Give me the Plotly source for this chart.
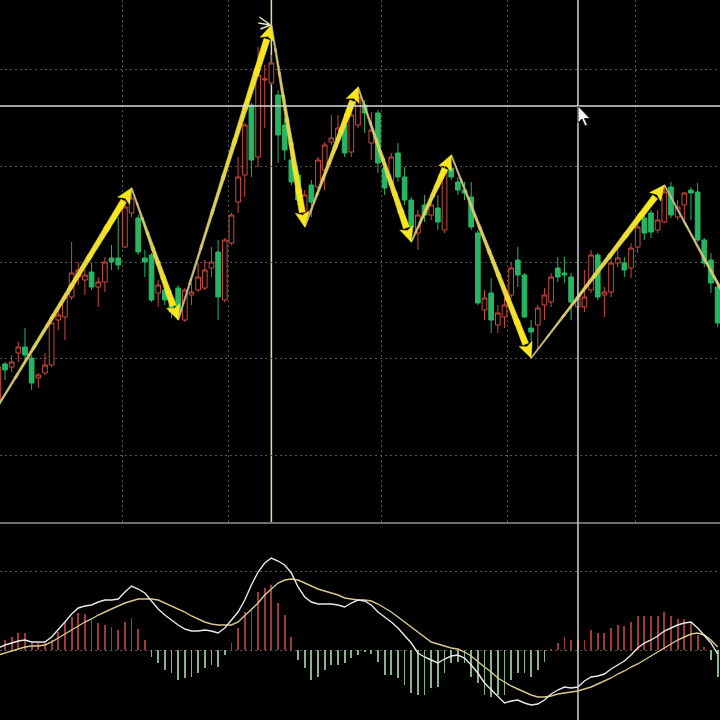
import numpy as np
import plotly.graph_objects as go

# ---------------- data ----------------
candle_idx = list(range(109))
opens = [10.0, 13.6, 13.3, 14.7, 15.3, 14.2, 12.2, 12.7, 13.5, 18.0,
         18.3, 20.3, 22.3, 22.0, 22.8, 21.3, 21.8, 24.2, 24.2, 25.3,
         28.7, 28.2, 24.2, 24.5, 20.7, 21.0, 20.2, 21.2, 18.0, 20.5,
         21.0, 21.2, 23.2, 24.8, 20.0, 25.7, 29.8, 32.5, 39.5, 34.3,
         42.0, 41.7, 40.5, 37.5, 34.0, 32.5, 28.7, 31.5, 31.3, 33.0,
         35.8, 36.0, 37.5, 34.8, 37.5, 39.5, 35.7, 38.7, 33.2, 31.5,
         34.7, 32.3, 30.0, 26.7, 29.5, 28.5, 29.2, 27.0, 33.2, 31.8,
         31.0, 30.3, 26.7, 19.0, 20.7, 17.5, 18.3, 20.5, 24.0, 22.5,
         17.2, 17.5, 19.5, 19.8, 23.2, 22.7, 22.3, 19.3, 19.3, 21.0,
         24.5, 20.5, 20.8, 23.7, 23.7, 23.2, 25.3, 28.2, 28.7, 27.0,
         27.8, 31.3, 28.3, 29.5, 31.0, 30.8, 26.0, 24.0, 21.3]
highs = [14.0, 13.8, 14.5, 15.8, 17.2, 14.5, 12.7, 14.7, 18.0, 19.0,
         20.7, 25.8, 23.8, 23.0, 23.7, 22.3, 24.3, 25.5, 28.3, 30.0,
         31.0, 28.5, 25.0, 24.7, 22.0, 21.5, 20.5, 21.5, 21.2, 21.7,
         23.7, 24.0, 25.3, 26.0, 26.2, 28.7, 34.3, 37.7, 39.7, 45.3,
         43.5, 44.5, 41.0, 38.2, 35.0, 33.0, 31.0, 32.0, 34.3, 35.8,
         38.5, 38.5, 38.2, 39.0, 41.0, 40.0, 38.8, 39.0, 33.5, 34.7,
         35.7, 33.3, 30.3, 29.0, 30.5, 30.0, 30.5, 33.5, 33.5, 32.3,
         31.8, 31.8, 27.0, 21.0, 22.2, 19.5, 20.2, 23.7, 25.3, 22.7,
         18.0, 19.5, 21.2, 22.7, 24.3, 24.3, 22.7, 20.7, 23.0, 25.0,
         24.7, 21.3, 24.2, 25.0, 24.3, 25.7, 27.7, 28.7, 29.0, 29.0,
         31.5, 31.8, 30.0, 30.8, 31.3, 31.7, 26.2, 24.7, 21.7]
lows = [9.8, 12.0, 12.8, 13.8, 13.8, 11.0, 11.2, 12.5, 13.3, 17.0,
        16.0, 20.0, 21.5, 20.5, 21.0, 19.3, 20.8, 23.0, 23.0, 25.2,
        28.3, 24.5, 22.3, 19.8, 19.3, 19.5, 18.2, 18.2, 17.8, 19.5,
        20.8, 21.0, 22.3, 18.0, 19.8, 25.5, 28.7, 30.3, 32.3, 33.3,
        37.2, 41.5, 33.7, 34.0, 31.5, 29.5, 27.8, 28.3, 30.8, 31.0,
        35.5, 35.7, 34.3, 34.3, 37.2, 36.7, 34.0, 32.7, 30.5, 30.7,
        31.8, 29.5, 26.8, 25.0, 27.8, 28.0, 27.0, 26.7, 32.0, 30.5,
        30.0, 27.0, 19.5, 18.0, 16.7, 16.7, 17.2, 20.2, 21.3, 18.2,
        14.7, 15.0, 18.0, 19.3, 21.8, 21.7, 18.0, 18.0, 18.8, 20.7,
        20.0, 18.3, 20.3, 23.3, 22.3, 22.2, 24.7, 26.0, 26.2, 26.7,
        27.7, 28.2, 28.0, 27.7, 28.0, 25.8, 23.3, 20.7, 17.3]
closes = [13.3, 13.0, 13.8, 15.3, 14.5, 11.7, 12.5, 13.5, 17.7, 18.5,
          20.3, 22.7, 23.0, 22.5, 21.3, 21.8, 23.8, 23.8, 23.5, 29.3,
          30.2, 24.8, 23.8, 20.0, 21.5, 20.0, 18.8, 18.5, 21.0, 20.8,
          22.3, 23.0, 23.8, 20.3, 26.0, 28.5, 32.3, 37.5, 34.0, 42.5,
          42.1, 43.7, 36.5, 35.0, 31.8, 30.0, 30.5, 29.8, 34.0, 35.5,
          36.2, 37.2, 34.7, 38.5, 40.3, 38.7, 37.0, 33.7, 31.2, 34.3,
          32.3, 30.0, 27.3, 28.5, 28.5, 29.5, 27.8, 33.0, 32.3, 31.0,
          30.7, 27.3, 19.7, 20.2, 18.0, 18.7, 19.5, 23.2, 22.5, 18.3,
          16.8, 19.2, 20.5, 22.3, 22.3, 22.5, 19.8, 20.2, 20.3, 24.5,
          20.3, 20.8, 23.7, 24.2, 23.0, 25.2, 27.3, 26.7, 26.8, 28.0,
          30.8, 28.5, 29.3, 30.7, 30.7, 26.0, 23.7, 21.7, 17.7]

macd_hist = [0.08, 0.10, 0.13, 0.17, 0.17, 0.08, 0.07, 0.07, 0.10, 0.18,
             0.28, 0.33, 0.37, 0.36, 0.30, 0.27, 0.25, 0.23, 0.20, 0.28,
             0.32, 0.21, 0.10, -0.07, -0.13, -0.20, -0.23, -0.30, -0.28, -0.27,
             -0.23, -0.18, -0.15, -0.17, -0.05, 0.07, 0.22, 0.38, 0.42, 0.58,
             0.62, 0.65, 0.47, 0.35, 0.13, -0.10, -0.18, -0.30, -0.27, -0.20,
             -0.15, -0.15, -0.13, -0.08, -0.05, -0.02, -0.04, -0.12, -0.25, -0.25,
             -0.28, -0.35, -0.43, -0.45, -0.45, -0.38, -0.37, -0.23, -0.13, -0.12,
             -0.13, -0.27, -0.33, -0.45, -0.47, -0.45, -0.45, -0.30, -0.23, -0.23,
             -0.27, -0.20, -0.12, 0.01, 0.07, 0.13, 0.10, 0.10, 0.10, 0.20,
             0.17, 0.17, 0.22, 0.25, 0.24, 0.28, 0.34, 0.34, 0.34, 0.34,
             0.38, 0.34, 0.31, 0.31, 0.28, 0.15, 0.03, -0.10, -0.27]
dif = [0.02, 0.05, 0.07, 0.09, 0.10, 0.08, 0.08, 0.08, 0.13, 0.20,
       0.28, 0.36, 0.42, 0.44, 0.45, 0.48, 0.50, 0.50, 0.51, 0.58,
       0.64, 0.61, 0.57, 0.49, 0.41, 0.35, 0.30, 0.25, 0.21, 0.19,
       0.19, 0.20, 0.19, 0.17, 0.22, 0.30, 0.38, 0.50, 0.65, 0.78,
       0.87, 0.92, 0.89, 0.85, 0.77, 0.63, 0.53, 0.48, 0.46, 0.46,
       0.46, 0.45, 0.43, 0.47, 0.50, 0.49, 0.45, 0.38, 0.33, 0.28,
       0.22, 0.14, 0.07, -0.03, -0.07, -0.10, -0.13, -0.09, -0.06, -0.05,
       -0.08, -0.15, -0.23, -0.33, -0.40, -0.47, -0.53, -0.51, -0.50, -0.53,
       -0.55, -0.54, -0.50, -0.44, -0.40, -0.37, -0.38, -0.37, -0.31, -0.27,
       -0.26, -0.24, -0.19, -0.15, -0.11, -0.05, 0.02, 0.07, 0.10, 0.14,
       0.19, 0.22, 0.25, 0.27, 0.28, 0.22, 0.15, 0.07, -0.04]
dea = [-0.05, -0.03, -0.01, 0.01, 0.03, 0.04, 0.04, 0.05, 0.08, 0.12,
       0.16, 0.20, 0.24, 0.28, 0.31, 0.35, 0.38, 0.41, 0.44, 0.47,
       0.49, 0.51, 0.51, 0.51, 0.50, 0.47, 0.44, 0.41, 0.38, 0.34,
       0.31, 0.28, 0.26, 0.25, 0.25, 0.25, 0.28, 0.34, 0.40, 0.47,
       0.55, 0.61, 0.67, 0.70, 0.71, 0.70, 0.67, 0.64, 0.61, 0.59,
       0.57, 0.55, 0.52, 0.51, 0.50, 0.50, 0.49, 0.46, 0.42, 0.38,
       0.33, 0.28, 0.23, 0.18, 0.13, 0.08, 0.06, 0.04, 0.02, 0.01,
       -0.02, -0.06, -0.12, -0.17, -0.22, -0.28, -0.32, -0.36, -0.39, -0.42,
       -0.45, -0.47, -0.47, -0.46, -0.44, -0.43, -0.42, -0.41, -0.39, -0.37,
       -0.34, -0.31, -0.28, -0.24, -0.21, -0.17, -0.14, -0.10, -0.06, -0.02,
       0.02, 0.06, 0.10, 0.13, 0.16, 0.17, 0.15, 0.10, 0.03]

# hand-drawn zigzag (pivot candle, pivot price)
pivot_idx = [-3, 20, 27, 41, 46, 54, 62, 68, 80, 100, 125]
pivot_price = [6.2, 31.2, 18.0, 47.5, 27.3, 41.3, 25.8, 34.5, 14.2, 31.5, 0.8]

# grid / crosshair positions
vgrid_idx = [18.7, 34.6, 57.6, 76.5, 95.6]
hgrid_price = [4.5, 14.2, 23.8, 33.4, 43.1]
macd_grid = [0.0, 0.79]
cross_idx = 41
cursor_idx = 87.03
cursor_price = 39.4

# ---------------- geometry ----------------
W = H = 720
MAIN_H = 523
MACD_FRAC = 1 - MAIN_H / H
X_RANGE = [0.2492, 108.36]
Y_RANGE = [-2.3, 50.0]
MACD_RANGE = [-0.70, 1.27]

fig = go.Figure()

fig.add_trace(go.Candlestick(
    x=candle_idx, open=opens, high=highs, low=lows, close=closes,
    increasing=dict(line=dict(color='#cc4a3e', width=1), fillcolor='#000000'),
    decreasing=dict(line=dict(color='#27b564', width=1), fillcolor='#27b564'),
    whiskerwidth=0, xaxis='x', yaxis='y', hoverinfo='skip'))

# tapered arrows, built in pixel space then mapped back to data units
XS = W / (X_RANGE[1] - X_RANGE[0])
YS = MAIN_H / (Y_RANGE[1] - Y_RANGE[0])


def to_px(k, p):
    return np.array([(k - X_RANGE[0]) * XS, (Y_RANGE[1] - p) * YS])


def to_data(pt):
    return pt[0] / XS + X_RANGE[0], Y_RANGE[1] - pt[1] / YS


N = 8
c0 = np.array([200, 190, 140])
c1 = np.array([248, 230, 30])
layers = [([], []) for _ in range(N + 1)]
h0, h1 = 0.6, 3.1
for a in range(len(pivot_idx) - 1):
    A = to_px(pivot_idx[a], pivot_price[a])
    B = to_px(pivot_idx[a + 1], pivot_price[a + 1])
    d = B - A
    L = np.hypot(*d)
    u = d / L
    nrm = np.array([-u[1], u[0]])
    Lh = 15.0
    Hb = B - u * Lh
    for j in range(N):
        t0 = j / N
        t1 = min(1.0, (j + 1) / N + 0.02)
        P0 = A + (Hb - A) * t0
        P1 = A + (Hb - A) * t1
        w0 = h0 + (h1 - h0) * t0 ** 1.3
        w1 = h0 + (h1 - h0) * t1 ** 1.3
        poly = [P0 + nrm * w0, P1 + nrm * w1, P1 - nrm * w1, P0 - nrm * w0, P0 + nrm * w0]
        xs, ys = layers[j]
        for pt in poly:
            dx, dy = to_data(pt)
            xs.append(dx)
            ys.append(dy)
        xs.append(None)
        ys.append(None)
    head = [Hb + nrm * 7, B, Hb - nrm * 7, Hb + u * 3, Hb + nrm * 7]
    xs, ys = layers[N]
    for pt in head:
        dx, dy = to_data(pt)
        xs.append(dx)
        ys.append(dy)
    xs.append(None)
    ys.append(None)

for j, (xs, ys) in enumerate(layers):
    t = min(1.0, j / (N - 1))
    col = c0 + (c1 - c0) * t
    rgb = 'rgb(%d,%d,%d)' % tuple(col.astype(int))
    fig.add_trace(go.Scatter(x=xs, y=ys, mode='lines', fill='toself', fillcolor=rgb,
                             line=dict(color=rgb, width=0.5), xaxis='x', yaxis='y',
                             hoverinfo='skip'))

# MACD panel
bar_colors = ['#9c3b38' if v >= 0 else '#86b38c' for v in macd_hist]
fig.add_trace(go.Bar(x=candle_idx, y=macd_hist, marker=dict(color=bar_colors, line=dict(width=0)),
                     width=0.27, xaxis='x2', yaxis='y2', hoverinfo='skip'))
fig.add_trace(go.Scatter(x=candle_idx, y=dea, mode='lines', line=dict(color='#d8c98c', width=1.4),
                         xaxis='x2', yaxis='y2', hoverinfo='skip'))
fig.add_trace(go.Scatter(x=candle_idx, y=dif, mode='lines', line=dict(color='#e8e8e8', width=1.4),
                         xaxis='x2', yaxis='y2', hoverinfo='skip'))

grid_col = '#555555'
gdash = '2px,3px'
fig.update_layout(
    width=W, height=H, margin=dict(l=0, r=0, t=0, b=0, pad=0),
    paper_bgcolor='black', plot_bgcolor='black', showlegend=False, bargap=0,
    boxgap=0.2, boxgroupgap=0.12, hovermode=False,
    xaxis=dict(domain=[0, 1], range=X_RANGE, anchor='y', tickvals=vgrid_idx, showticklabels=False,
               ticks='', showgrid=True, gridcolor=grid_col, griddash=gdash, gridwidth=1,
               zeroline=False, showline=False, rangeslider=dict(visible=False)),
    yaxis=dict(domain=[MACD_FRAC, 1], range=Y_RANGE, tickvals=hgrid_price, showticklabels=False,
               ticks='', showgrid=True, gridcolor=grid_col, griddash=gdash, gridwidth=1,
               zeroline=False, showline=False),
    xaxis2=dict(domain=[0, 1], range=X_RANGE, anchor='y2', matches='x', showticklabels=False,
                ticks='', showgrid=False, zeroline=False, showline=False),
    yaxis2=dict(domain=[0, MACD_FRAC], range=MACD_RANGE, tickvals=macd_grid, showticklabels=False,
                ticks='', showgrid=True, gridcolor=grid_col, griddash=gdash, gridwidth=1,
                zeroline=False, showline=False),
)

shapes = [
    # panel separator
    dict(type='line', xref='paper', yref='paper', x0=0, x1=1, y0=MACD_FRAC, y1=MACD_FRAC,
         line=dict(color='#6e6e6e', width=2), layer='above'),
    # cream vertical at the marked candle (main panel only)
    dict(type='line', xref='x', yref='paper', x0=cross_idx, x1=cross_idx, y0=MACD_FRAC, y1=1,
         line=dict(color='#e2d8ae', width=1.5), layer='below'),
    # crosshair
    dict(type='line', xref='x', yref='paper', x0=cursor_idx, x1=cursor_idx, y0=0, y1=1,
         line=dict(color='#cfcfcf', width=1.5), layer='above'),
    dict(type='line', xref='paper', yref='y', x0=0, x1=1, y0=cursor_price, y1=cursor_price,
         line=dict(color='#d9d9d9', width=1.5), layer='above'),
    # mouse pointer
    dict(type='path', xref='x', yref='y', xsizemode='pixel', ysizemode='pixel',
         xanchor=cursor_idx, yanchor=cursor_price,
         path='M 0 0 L 0 -17 L 4 -13 L 7 -20 L 9.5 -19 L 6.5 -12.5 L 12 -12.5 Z',
         fillcolor='#f4f4f4', line=dict(color='#222222', width=1), layer='above'),
    # small pale chevron at the top pivot
    dict(type='path', xref='x', yref='y', xsizemode='pixel', ysizemode='pixel',
         xanchor=pivot_idx[3], yanchor=pivot_price[3],
         path='M -12 8 L -1 0 M -13 2 L -1 0 M -11 -4 L -1 0',
         line=dict(color='#ece4bc', width=1.5), layer='above'),
]
fig.update_layout(shapes=shapes)

fig.write_html('out.html',
               config={'displayModeBar': False, 'staticPlot': True},
               post_script="document.body.style.margin='0';document.body.style.padding='0';"
                           "document.body.style.overflow='hidden';"
                           "document.body.style.background='black';")
